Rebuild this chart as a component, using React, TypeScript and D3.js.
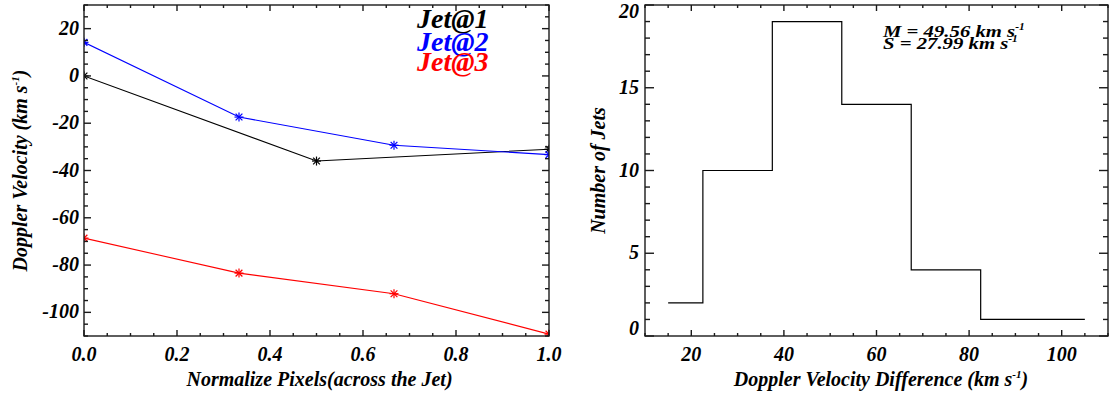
import React from 'react';
import * as d3 from 'd3';

// left panel: Doppler velocity across the jet
const jet1X = [0, 0.5, 1.0];
const jet1V = [0, -36, -31];
const jet2X = [0, 1 / 3, 2 / 3, 1.0];
const jet2V = [14.2, -17.4, -29.3, -33.3];
const jet3X = [0, 1 / 3, 2 / 3, 1.0];
const jet3V = [-68.6, -83.4, -92.1, -109.2];
const jetNames = ['Jet@1', 'Jet@2', 'Jet@3'];
const jetColors = ['#000000', '#0000ff', '#ff0000'];

const leftXTicks = [0, 0.2, 0.4, 0.6, 0.8, 1.0];
const leftYTicks = [-100, -80, -60, -40, -20, 0, 20];

// right panel: histogram of velocity difference (bin centres, counts)
const binCenters = [15, 30, 45, 60, 75, 90, 105];
const binCounts = [2, 10, 19, 14, 4, 1, 1];
const rightXTicks = [20, 40, 60, 80, 100];
const rightYTicks = [0, 5, 10, 15, 20];
const statLines = ['M = 49.56 km s', 'S = 27.99 km s'];

const TXT = { fontFamily: 'Liberation Serif', fontWeight: 'bold', fontStyle: 'italic' };
const AX = '#1a1a1a';

const L = { x0: 84, x1: 549, y0: 5, y1: 336 };
const R = { x0: 645, x1: 1108, y0: 5, y1: 336 };

const range = (a, b, s) => d3.range(a, b + s / 2, s);

const Asterisk = ({ x, y, color }) => {
  const r = 4.5;
  const d = r * 0.75;
  return (
    <g stroke={color} strokeWidth={1.2}>
      <line x1={x - r} y1={y} x2={x + r} y2={y} />
      <line x1={x} y1={y - r} x2={x} y2={y + r} />
      <line x1={x - d} y1={y - d} x2={x + d} y2={y + d} />
      <line x1={x - d} y1={y + d} x2={x + d} y2={y - d} />
    </g>
  );
};

const Frame = ({ box, xScale, yScale, xMajor, xMinor, yMajor, yMinor, yMajLen, yMinLen }) => {
  const xMajLen = 6, xMinLen = 3;
  return (
    <g stroke={AX} strokeWidth={1.4} fill="none">
      <rect x={box.x0} y={box.y0} width={box.x1 - box.x0} height={box.y1 - box.y0} />
      {xMinor.map((t, i) => {
        const x = xScale(t);
        const len = xMajor.some(m => Math.abs(m - t) < 1e-9) ? xMajLen : xMinLen;
        return (
          <g key={'x' + i}>
            <line x1={x} x2={x} y1={box.y1} y2={box.y1 - len} />
            <line x1={x} x2={x} y1={box.y0} y2={box.y0 + len} />
          </g>
        );
      })}
      {yMinor.map((t, i) => {
        const y = yScale(t);
        const len = yMajor.some(m => Math.abs(m - t) < 1e-9) ? yMajLen : yMinLen;
        return (
          <g key={'y' + i}>
            <line x1={box.x0} x2={box.x0 + len} y1={y} y2={y} />
            <line x1={box.x1} x2={box.x1 - len} y1={y} y2={y} />
          </g>
        );
      })}
    </g>
  );
};

const Unit = ({ size }) => (
  <tspan fontSize={size * 0.55} baselineShift={size * 0.4}>-1</tspan>
);

export default function App() {
  const xL = d3.scaleLinear().domain([0, 1]).range([L.x0, L.x1]);
  const yL = d3.scaleLinear().domain([-110, 30]).range([L.y1, L.y0]);
  const xR = d3.scaleLinear().domain([10, 110]).range([R.x0, R.x1]);
  const yR = d3.scaleLinear().domain([0, 20]).range([R.y1, R.y0]);

  const line = d3.line().x(d => xL(d[0])).y(d => yL(d[1]));
  const series = [
    { xs: jet1X, vs: jet1V },
    { xs: jet2X, vs: jet2V },
    { xs: jet3X, vs: jet3V },
  ];

  // IDL psym=10 style histogram steps
  const steps = [];
  binCenters.forEach((c, i) => {
    const left = i === 0 ? c : (binCenters[i - 1] + c) / 2;
    const right = i === binCenters.length - 1 ? c : (c + binCenters[i + 1]) / 2;
    steps.push([left, binCounts[i]], [right, binCounts[i]]);
  });
  const stepLine = d3.line().x(d => xR(d[0])).y(d => yR(d[1]));

  const tickFont = 20;
  const labelFont = 20;
  const statFont = 17;

  return (
    <svg width={1110} height={394} style={{ position: 'absolute', left: 0, top: 0, background: '#fff' }}>
      <defs>
        <clipPath id="clipL">
          <rect x={L.x0} y={L.y0} width={L.x1 - L.x0} height={L.y1 - L.y0} />
        </clipPath>
      </defs>

      {/* left panel */}
      <g clipPath="url(#clipL)">
        {series.map((s, k) => {
          const pts = s.xs.map((x, i) => [x, s.vs[i]]);
          return (
            <g key={k}>
              <path d={line(pts)} fill="none" stroke={jetColors[k]} strokeWidth={1.1} />
              {pts.map((p, i) => (
                <Asterisk key={i} x={xL(p[0])} y={yL(p[1])} color={jetColors[k]} />
              ))}
            </g>
          );
        })}
      </g>
      <Frame box={L} xScale={xL} yScale={yL}
        xMajor={leftXTicks} xMinor={range(0, 1, 0.05)}
        yMajor={leftYTicks} yMinor={range(-110, 30, 5)} yMajLen={7} yMinLen={4} />
      {leftXTicks.map(t => (
        <text key={t} style={TXT} x={xL(t)} y={361} textAnchor="middle" fontSize={tickFont}>{d3.format('.1f')(t)}</text>
      ))}
      {leftYTicks.map(t => (
        <text key={t} style={TXT} x={79} y={yL(t) + 6} textAnchor="end" fontSize={tickFont}>{t}</text>
      ))}
      <text style={TXT} x={xL(0.5) + 3} y={386} textAnchor="middle" fontSize={labelFont}>Normalize Pixels(across the Jet)</text>
      <text style={TXT} transform={`translate(27,${(L.y0 + L.y1) / 2}) rotate(-90)`} textAnchor="middle" fontSize={labelFont}>
        Doppler Velocity (km s<Unit size={labelFont} />)
      </text>
      {jetNames.map((n, i) => (
        <text key={n} style={TXT} x={417} y={[28, 51, 71][i]} fontSize={28} fill={jetColors[i]}>{n}</text>
      ))}

      {/* right panel */}
      <path d={stepLine(steps)} fill="none" stroke="#000" strokeWidth={1.2} />
      <Frame box={R} xScale={xR} yScale={yR}
        xMajor={rightXTicks} xMinor={range(10, 110, 5)}
        yMajor={rightYTicks} yMinor={range(0, 20, 1)} yMajLen={9} yMinLen={5} />
      {rightXTicks.map(t => (
        <text key={t} style={TXT} x={xR(t)} y={361} textAnchor="middle" fontSize={tickFont}>{t}</text>
      ))}
      {rightYTicks.map(t => {
        const y = Math.min(Math.max(yR(t), R.y0 + 7), R.y1 - 7);
        return <text key={t} style={TXT} x={639} y={y + 6} textAnchor="end" fontSize={tickFont}>{t}</text>;
      })}
      <text style={TXT} x={881} y={386} textAnchor="middle" fontSize={labelFont}>
        Doppler Velocity Difference (km s<Unit size={labelFont} />)
      </text>
      <text style={TXT} transform={`translate(605,${(R.y0 + R.y1) / 2}) rotate(-90)`} textAnchor="middle" fontSize={labelFont}>
        Number of Jets
      </text>
      {statLines.map((s, i) => (
        <text key={s} style={TXT} transform={`translate(883,${[37, 49][i]}) scale(1.22,1)`} fontSize={statFont}>
          {s}<Unit size={statFont} />
        </text>
      ))}
    </svg>
  );
}
